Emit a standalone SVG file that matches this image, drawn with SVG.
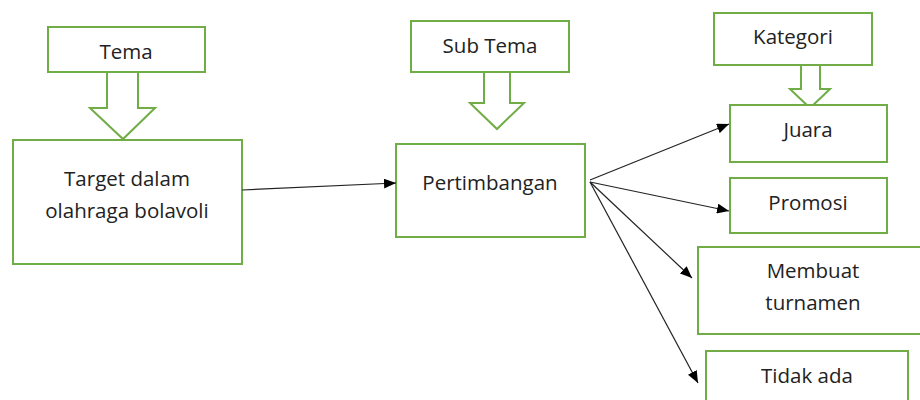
<svg xmlns="http://www.w3.org/2000/svg" width="920" height="400" viewBox="0 0 920 400">
<defs>
<style>
.box{fill:#fff;stroke:#70AD47;stroke-width:2}
.blk{fill:#fff;stroke:#70AD47;stroke-width:2;stroke-linejoin:miter}
.t{font-family:"Open Sans","Noto Sans",sans-serif;font-size:20.5px;fill:#222;text-anchor:middle}
.c{stroke:#222;stroke-width:1.2;fill:none}
</style>
<marker id="ah" viewBox="0 0 12 10" refX="12" refY="5" markerWidth="12" markerHeight="10" markerUnits="userSpaceOnUse" orient="auto">
<path d="M0,0 L12,5 L0,10 Z" fill="#000"/>
</marker>
</defs>
<rect width="920" height="400" fill="#fff"/>
<g id="tema">
<rect class="box" x="48" y="27" width="157" height="45"/>
<text class="t" x="126" y="59">Tema</text>
</g>
<g id="tema-arrow">
<path class="blk" d="M107,72 L138,72 L138,108 L155,108 L123,139 L90,108 L107,108 Z"/>
</g>
<g id="target">
<rect class="box" x="13" y="140" width="229" height="124"/>
<text class="t" x="127" y="186">Target dalam</text>
<text class="t" x="127" y="218">olahraga bolavoli</text>
</g>
<g id="subtema">
<rect class="box" x="411" y="21" width="158" height="51"/>
<text class="t" x="490" y="53">Sub Tema</text>
</g>
<g id="subtema-arrow">
<path class="blk" d="M484,72 L510,72 L510,103 L524,103 L497,129 L470,103 L484,103 Z"/>
</g>
<g id="pertimbangan">
<rect class="box" x="396" y="144" width="189" height="93"/>
<text class="t" x="490" y="190">Pertimbangan</text>
</g>
<g id="kategori">
<rect class="box" x="714" y="13" width="158" height="52"/>
<text class="t" x="793" y="44">Kategori</text>
</g>
<g id="kategori-arrow">
<path class="blk" d="M801,65 L820,65 L820,89 L830,89 L810,108 L790,89 L801,89 Z"/>
</g>
<g id="juara">
<rect class="box" x="730" y="105" width="157" height="57"/>
<text class="t" x="808" y="137">Juara</text>
</g>
<g id="promosi">
<rect class="box" x="730" y="178" width="157" height="55"/>
<text class="t" x="808" y="210">Promosi</text>
</g>
<g id="membuat">
<rect class="box" x="698" y="247" width="240" height="87"/>
<text class="t" x="813" y="278">Membuat</text>
<text class="t" x="813" y="310">turnamen</text>
</g>
<g id="tidakada">
<rect class="box" x="706" y="351" width="202" height="60"/>
<text class="t" x="807" y="383">Tidak ada</text>
</g>
<g id="connectors">
<line class="c" x1="242" y1="190" x2="396" y2="183" marker-end="url(#ah)"/>
<line class="c" x1="590" y1="180" x2="729" y2="124" marker-end="url(#ah)"/>
<line class="c" x1="590" y1="182" x2="729" y2="211" marker-end="url(#ah)"/>
<line class="c" x1="590" y1="182" x2="692" y2="278" marker-end="url(#ah)"/>
<line class="c" x1="590" y1="182" x2="698" y2="383" marker-end="url(#ah)"/>
</g>
</svg>
